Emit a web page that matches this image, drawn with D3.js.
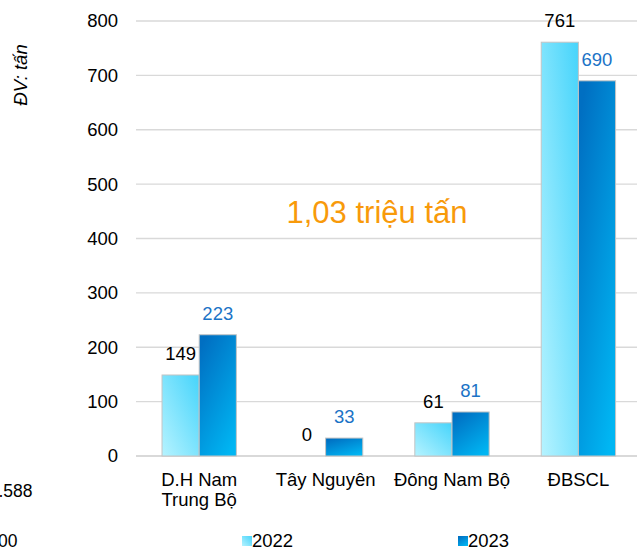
<!DOCTYPE html>
<html>
<head>
<meta charset="utf-8">
<script src="https://cdn.jsdelivr.net/npm/d3@7"></script>
<style>
  body { margin: 0; background: #fff; }
  text { font-family: "Liberation Sans", Arial, sans-serif; }
</style>
</head>
<body>
<div id="chart"></div>
<script>
const regions = ['D.H Nam\nTrung Bộ', 'Tây Nguyên', 'Đông Nam Bộ', 'ĐBSCL'];
const years = ['2022', '2023'];
const values2022 = [149, 0, 61, 761];
const values2023 = [223, 33, 81, 690];
const yTicks = [0, 100, 200, 300, 400, 500, 600, 700, 800];
const unitLabel = 'ĐV: tấn';
const totalNote = '1,03 triệu tấn';

const width = 637, height = 552;
const margin = { top: 21, left: 136, bottom: 96 };
const fs = 18.5;

const data = regions.map((r, i) => ({ region: r, '2022': values2022[i], '2023': values2023[i] }));

const svg = d3.select('#chart').append('svg')
  .attr('width', width)
  .attr('height', height);

const defs = svg.append('defs');
const g22 = defs.append('linearGradient').attr('id', 'grad2022')
  .attr('x1', 1).attr('y1', 0).attr('x2', 0).attr('y2', 1);
g22.append('stop').attr('offset', '0%').attr('stop-color', '#46d4fb');
g22.append('stop').attr('offset', '100%').attr('stop-color', '#b6f3ff');

const g23 = defs.append('linearGradient').attr('id', 'grad2023')
  .attr('x1', 0.2).attr('y1', 0).attr('x2', 0.8).attr('y2', 1);
g23.append('stop').attr('offset', '0%').attr('stop-color', '#006fc2');
g23.append('stop').attr('offset', '100%').attr('stop-color', '#00b6f3');

const x = d3.scaleBand()
  .domain(regions)
  .range([margin.left, 641.6])
  .padding(0);

const xSub = d3.scaleBand()
  .domain(years)
  .range([0, x.bandwidth()])
  .paddingInner(0)
  .paddingOuter(0.7);

const y = d3.scaleLinear()
  .domain([0, 800])
  .range([height - margin.bottom, margin.top]);

// gridlines
svg.append('g')
  .selectAll('line')
  .data(yTicks)
  .join('line')
  .attr('x1', margin.left)
  .attr('x2', width)
  .attr('y1', d => y(d))
  .attr('y2', d => y(d))
  .attr('stroke', '#d9d9d9')
  .attr('stroke-width', d => d === 0 ? 2 : 1.3);

// y tick labels
svg.append('g')
  .selectAll('text')
  .data(yTicks)
  .join('text')
  .attr('x', 118)
  .attr('y', d => y(d))
  .attr('dy', '0.35em')
  .attr('text-anchor', 'end')
  .attr('font-size', fs)
  .attr('fill', '#000')
  .text(d => d);

// unit label
svg.append('text')
  .attr('transform', 'translate(27, 75) rotate(-90)')
  .attr('text-anchor', 'middle')
  .attr('font-size', 18.5)
  .attr('font-style', 'italic')
  .text(unitLabel);

// bars
const group = svg.append('g')
  .selectAll('g')
  .data(data)
  .join('g')
  .attr('transform', d => `translate(${x(d.region)},0)`);

group.selectAll('rect')
  .data(d => years.map(k => ({ key: k, value: d[k] })))
  .join('rect')
  .attr('x', d => xSub(d.key))
  .attr('y', d => y(d.value))
  .attr('width', xSub.bandwidth())
  .attr('height', d => y(0) - y(d.value))
  .attr('fill', d => `url(#grad${d.key})`)
  .attr('stroke', d => d.value > 0 ? '#c4c4c4' : 'none')
  .attr('stroke-width', 1);

group.selectAll('text.val')
  .data(d => years.map(k => ({ key: k, value: d[k] })))
  .join('text')
  .attr('class', 'val')
  .attr('x', d => xSub(d.key) + xSub.bandwidth() / 2)
  .attr('y', d => y(d.value) - 15)
  .attr('text-anchor', 'middle')
  .attr('font-size', fs)
  .attr('fill', d => d.key === '2022' ? '#000' : '#1b73c6')
  .text(d => d.value);

// category labels
const cat = svg.append('g')
  .selectAll('text')
  .data(regions)
  .join('text')
  .attr('x', d => x(d) + x.bandwidth() / 2)
  .attr('y', 486)
  .attr('text-anchor', 'middle')
  .attr('font-size', fs);

cat.selectAll('tspan')
  .data(d => d.split('\n'))
  .join('tspan')
  .attr('x', function() { return d3.select(this.parentNode).attr('x'); })
  .attr('dy', (d, i) => i === 0 ? 0 : 20)
  .text(d => d);

// total annotation
svg.append('text')
  .attr('x', 377)
  .attr('y', 223)
  .attr('text-anchor', 'middle')
  .attr('font-size', 31)
  .attr('fill', '#f89a0a')
  .text(totalNote);

// legend
const legend = svg.append('g')
  .selectAll('g')
  .data(years)
  .join('g')
  .attr('transform', (d, i) => `translate(${i === 0 ? 242 : 458},536)`);

legend.append('rect')
  .attr('width', 10)
  .attr('height', 10)
  .attr('fill', d => `url(#grad${d})`);

legend.append('text')
  .attr('x', 10)
  .attr('y', 10.5)
  .attr('font-size', fs)
  .text(d => d);

// cut-off labels from the neighbouring chart on the left
svg.append('text')
  .attr('x', 32.5).attr('y', 497)
  .attr('text-anchor', 'end')
  .attr('font-size', 17.5)
  .text('1.588');
svg.append('text')
  .attr('x', 17.5).attr('y', 547)
  .attr('text-anchor', 'end')
  .attr('font-size', 17.5)
  .text('1.000');
</script>
</body>
</html>
